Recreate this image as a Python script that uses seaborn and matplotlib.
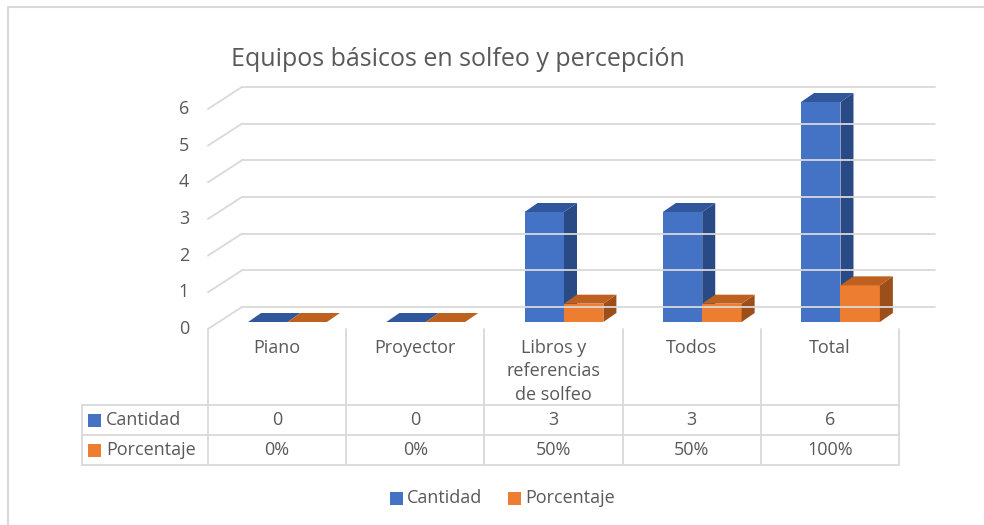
import pandas as pd
import seaborn as sns
import matplotlib.pyplot as plt
from matplotlib.patches import Polygon, Rectangle
from matplotlib.lines import Line2D
from matplotlib.transforms import Affine2D

# chart data
categories = ['Piano', 'Proyector', 'Libros y\nreferencias\nde solfeo', 'Todos', 'Total']
series = ['Cantidad', 'Porcentaje']
cantidad = [0, 0, 3, 3, 6]
porcentaje = [0.0, 0.0, 0.5, 0.5, 1.0]
cantidad_labels = ['0', '0', '3', '3', '6']
porcentaje_labels = ['0%', '0%', '50%', '50%', '100%']
y_ticks = [0, 1, 2, 3, 4, 5, 6]
title = 'Equipos básicos en solfeo y percepción'

colors = {'Cantidad': '#4472C4', 'Porcentaje': '#ED7D31'}
tops = {'Cantidad': '#30569C', 'Porcentaje': '#BE611F'}
sides = {'Cantidad': '#294A84', 'Porcentaje': '#9D4F1A'}
grid_c = '#D9D9D9'
text_c = '#595959'
fs = 13

df = pd.DataFrame({
    'Categoria': categories * 2,
    'Serie': [series[0]] * len(categories) + [series[1]] * len(categories),
    'Valor': cantidad + porcentaje,
})

sns.set_style('white')
plt.rcParams['font.family'] = ['Open Sans', 'DejaVu Sans']

W, H = 984, 525
fig = plt.figure(figsize=(W / 100, H / 100), dpi=100)
# pixel transform, origin top-left
px = Affine2D().scale(1, -1).translate(0, H)

ax = fig.add_axes([218.4 / W, 1 - 322 / H, 691.2 / W, 220 / H])
sns.barplot(data=df, x='Categoria', y='Valor', hue='Serie', palette=colors,
            width=0.57, saturation=1, ax=ax, legend=False)
ax.set_xlim(-0.5, 4.5)
ax.set_ylim(0, 6)
ax.axis('off')

# 3D depth of the bars
ux = 691.2 / 5
uy = 220 / 6
ddx, ddy = 13 / ux, 9 / uy
for i, p in enumerate(ax.patches):
    s = series[i // len(categories)]
    z = 3 + 3 * (i % len(categories)) + (i // len(categories)) * 1.5
    x0, w, h = p.get_x(), p.get_width(), p.get_height()
    p.set_clip_on(False)
    p.set_edgecolor('none')
    p.set_zorder(z)
    side = Polygon([(x0 + w, 0), (x0 + w + ddx, ddy), (x0 + w + ddx, h + ddy), (x0 + w, h)],
                   closed=True, fc=sides[s], ec='none', clip_on=False, zorder=z)
    top = Polygon([(x0, h), (x0 + w, h), (x0 + w + ddx, h + ddy), (x0 + ddx, h + ddy)],
                  closed=True, fc=tops[s], ec='none', clip_on=False, zorder=z + 0.5)
    ax.add_patch(side)
    ax.add_patch(top)

# walls / gridlines
def ypx(v):
    return H - ax.transData.transform((0, v))[1]

def xpx(v):
    return ax.transData.transform((v, 0))[0]

wall_left = xpx(-0.5) - 10.5
for v in y_ticks:
    yb = ypx(v) - 15
    yf = ypx(v) + 7
    fig.add_artist(Line2D([wall_left + 34, xpx(4.5) + 25.5], [yb, yb], color=grid_c, lw=1.3, transform=px, zorder=1))
    fig.add_artist(Line2D([wall_left, wall_left + 34], [yf, yb], color=grid_c, lw=1.3, transform=px, zorder=1))
    fig.text(189, yf, str(v), ha='right', va='center', fontsize=fs, color=text_c, transform=px)

# data table
col_edges = [xpx(k - 0.5) - 10.5 for k in range(len(categories) + 1)]
row_lines = [405, 435, 465]
key_left = 82
for xe in col_edges:
    fig.add_artist(Line2D([xe, xe], [329, row_lines[-1]], color=grid_c, lw=1.3, transform=px))
fig.add_artist(Line2D([key_left, key_left], [row_lines[0], row_lines[-1]], color=grid_c, lw=1.3, transform=px))
for yr in row_lines:
    fig.add_artist(Line2D([key_left, col_edges[-1]], [yr, yr], color=grid_c, lw=1.3, transform=px))

for i, cat in enumerate(categories):
    cx = (col_edges[i] + col_edges[i + 1]) / 2
    fig.text(cx, 339, cat, ha='center', va='top', fontsize=fs, color=text_c,
             linespacing=1.38, transform=px)
    fig.text(cx, 420, cantidad_labels[i], ha='center', va='center', fontsize=fs, color=text_c, transform=px)
    fig.text(cx, 450, porcentaje_labels[i], ha='center', va='center', fontsize=fs, color=text_c, transform=px)

for r, s in enumerate(series):
    yc = 420 + 30 * r
    fig.add_artist(Rectangle((88, yc - 6.5), 13, 13, fc=colors[s], ec='none', transform=px))
    fig.text(106, yc, s, ha='left', va='center', fontsize=fs, color=text_c, transform=px)

# legend
fig.add_artist(Rectangle((390, 491.5), 13, 13, fc=colors['Cantidad'], ec='none', transform=px))
fig.text(407, 498, 'Cantidad', ha='left', va='center', fontsize=fs, color=text_c, transform=px)
fig.add_artist(Rectangle((508, 491.5), 13, 13, fc=colors['Porcentaje'], ec='none', transform=px))
fig.text(525, 498, 'Porcentaje', ha='left', va='center', fontsize=fs, color=text_c, transform=px)

# title
fig.text(231, 60, title, ha='left', va='center', fontsize=18, color=text_c, transform=px)

# chart border (top and left)
fig.add_artist(Line2D([8, W], [7, 7], color=grid_c, lw=1.5, transform=px))
fig.add_artist(Line2D([8, 8], [7, H], color=grid_c, lw=1.5, transform=px))

fig.savefig('out.png', dpi=100)
